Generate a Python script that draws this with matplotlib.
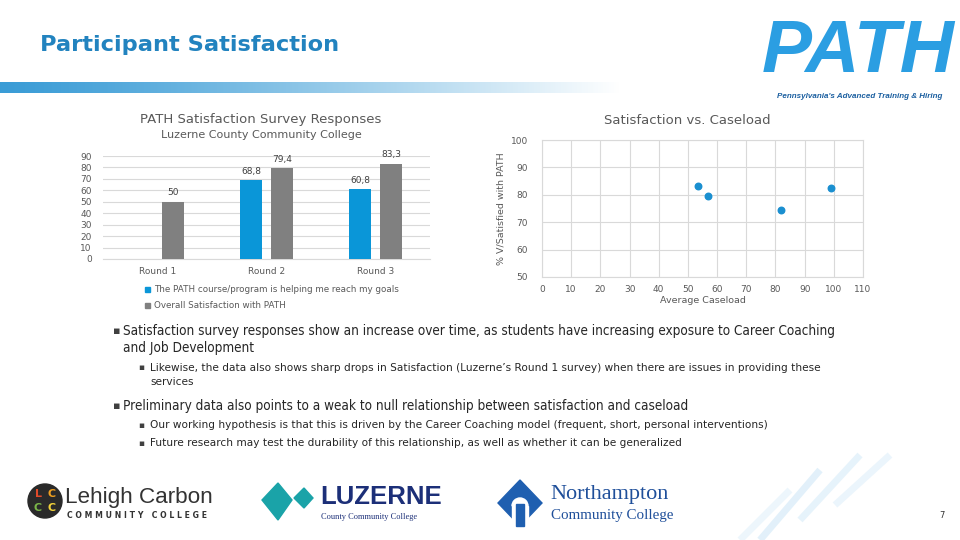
import numpy as np
import matplotlib
matplotlib.use("Agg")
import matplotlib.pyplot as plt
from matplotlib.patches import Rectangle, Polygon, Circle, Wedge

# bar chart data
rounds = ["Round 1", "Round 2", "Round 3"]
goals = [np.nan, 68.8, 60.8]
overall = [50, 79.4, 83.3]
goals_lbl = ["", "68,8", "60,8"]
overall_lbl = ["50", "79,4", "83,3"]

# scatter data
caseload = [53.5, 56.8, 82.0, 99.0]
satisfied = [83.3, 79.4, 74.6, 82.3]

W, H = 960, 540
fig = plt.figure(figsize=(9.6, 5.4), dpi=100)
fig.patch.set_facecolor("white")

def px(x, y):
    return x / W, 1 - y / H

def ftext(x, y, s, **kw):
    fx, fy = px(x, y)
    return fig.text(fx, fy, s, **kw)

BLUE = "#0a96d8"
GREY = "#808080"
TXT = "#595959"
GRID = "#d9d9d9"

# header band
band = fig.add_axes([0, 1 - 93 / H, 1, 11 / H])
grad = np.linspace(0, 1, 500)
cols = np.zeros((1, 500, 3))
c0 = np.array([0x3a, 0x9c, 0xd6]) / 255
for i, t in enumerate(grad):
    f = min(t * 1.55, 1) ** 1.2
    cols[0, i] = c0 * (1 - f) + np.array([1, 1, 1]) * f
band.imshow(cols, aspect="auto", extent=[0, 1, 0, 1])
band.axis("off")

ftext(40, 45, "Participant Satisfaction", fontsize=16.2, fontweight="bold",
      family="DejaVu Sans", color="#2283bf", va="center")

# PATH logo
ftext(858, 52, "PATH", fontsize=54, fontweight="bold", style="italic",
      family="Liberation Sans", color="#2b9ee2", ha="center", va="center")
ftext(860, 96, "Pennsylvania's Advanced Training & Hiring", fontsize=5.8,
      fontweight="bold", style="italic", family="Liberation Sans",
      color="#1b5fa0", ha="center", va="center")

# bar chart
ax = fig.add_axes([103 / W, 1 - 259 / H, 327 / W, 103 / H])
x = np.arange(len(rounds))
bw = 0.21
off = 0.142
ax.bar(x - off, goals, bw, color=BLUE, zorder=3)
ax.bar(x + off, overall, bw, color=GREY, zorder=3)
for i in range(len(rounds)):
    if goals_lbl[i]:
        ax.text(x[i] - off, goals[i] + 4, goals_lbl[i], ha="center", va="bottom",
                fontsize=6.5, color="#404040")
    ax.text(x[i] + off, overall[i] + 4, overall_lbl[i], ha="center", va="bottom",
            fontsize=6.5, color="#404040")
ax.set_xlim(-0.5, 2.5)
ax.set_ylim(0, 90)
ax.set_yticks(range(0, 91, 10))
ax.set_xticks(x)
ax.set_xticklabels(rounds)
ax.yaxis.grid(True, color=GRID, lw=0.8, zorder=0)
for s in ["top", "right", "left"]:
    ax.spines[s].set_visible(False)
ax.spines["bottom"].set_color(GRID)
ax.tick_params(length=0, labelsize=6.5, labelcolor=TXT)
ax.tick_params(axis="x", pad=6)
ax.tick_params(axis="y", pad=8)

ftext(261, 119, "PATH Satisfaction Survey Responses", fontsize=9.5, color=TXT,
      ha="center", va="center")
ftext(261, 135, "Luzerne County Community College", fontsize=8, color=TXT,
      ha="center", va="center")

# legend
fig.patches.append(Rectangle(px(145, 292), 5 / W, 5 / H, color=BLUE,
                             transform=fig.transFigure, figure=fig))
fig.patches.append(Rectangle(px(145, 308), 5 / W, 5 / H, color=GREY,
                             transform=fig.transFigure, figure=fig))
ftext(154, 289, "The PATH course/program is helping me reach my goals",
      fontsize=6.3, color=TXT, va="center")
ftext(154, 305, "Overall Satisfaction with PATH", fontsize=6.3, color=TXT,
      va="center")

# scatter chart
ax2 = fig.add_axes([542 / W, 1 - 277 / H, 321 / W, 137 / H])
ax2.scatter(caseload, satisfied, s=22, color="#1a8fd0", zorder=3)
ax2.set_xlim(0, 110)
ax2.set_ylim(50, 100)
ax2.set_xticks(range(0, 111, 10))
ax2.set_yticks(range(50, 101, 10))
ax2.grid(True, color=GRID, lw=0.8, zorder=0)
for s in ax2.spines.values():
    s.set_color(GRID)
ax2.tick_params(length=0, labelsize=6.5, labelcolor=TXT)
ax2.tick_params(axis="x", pad=6)
ax2.tick_params(axis="y", pad=10)
ax2.set_xlabel("Average Caseload", fontsize=6.8, color=TXT, labelpad=1)
ax2.set_ylabel("% V/Satisfied with PATH", fontsize=6.8, color=TXT, labelpad=4)
ftext(687, 120, "Satisfaction vs. Caseload", fontsize=9.5, color=TXT,
      ha="center", va="center")

# bullet text
BF = "DejaVu Sans"
B1 = 9.75
B2 = 7.6
ftext(113, 331, "\u25aa", fontsize=8, color="#404040", va="center")
ftext(123, 331, "Satisfaction survey responses show an increase over time, as students have increasing exposure to Career Coaching",
      fontsize=B1, color="#262626", va="center", family=BF, fontstretch="condensed")
ftext(123, 348, "and Job Development", fontsize=B1, color="#262626", va="center",
      family=BF, fontstretch="condensed")
ftext(138, 368, "\u25aa", fontsize=6.5, color="#404040", va="center")
ftext(150, 368, "Likewise, the data also shows sharp drops in Satisfaction (Luzerne\u2019s Round 1 survey) when there are issues in providing these",
      fontsize=B2, color="#262626", va="center", family=BF)
ftext(150, 382, "services", fontsize=B2, color="#262626", va="center", family=BF)
ftext(113, 406, "\u25aa", fontsize=8, color="#404040", va="center")
ftext(123, 406, "Preliminary data also points to a weak to null relationship between satisfaction and caseload",
      fontsize=B1, color="#262626", va="center", family=BF, fontstretch="condensed")
ftext(138, 425, "\u25aa", fontsize=6.5, color="#404040", va="center")
ftext(150, 425, "Our working hypothesis is that this is driven by the Career Coaching model (frequent, short, personal interventions)",
      fontsize=B2, color="#262626", va="center", family=BF)
ftext(138, 443, "\u25aa", fontsize=6.5, color="#404040", va="center")
ftext(150, 443, "Future research may test the durability of this relationship, as well as whether it can be generalized",
      fontsize=B2, color="#262626", va="center", family=BF)

# decorative stripes bottom right
deco = fig.add_axes([0, 0, 1, 1], zorder=-1)
deco.set_xlim(0, W)
deco.set_ylim(H, 0)
deco.axis("off")
for x0, x1, y0, y1, a in [(760, 820, 540, 470, 0.3), (800, 860, 520, 455, 0.25),
                          (835, 890, 505, 455, 0.2), (740, 790, 540, 490, 0.18)]:
    deco.plot([x0, x1], [y0, y1], color="#9fd0f0", lw=5, alpha=a,
              solid_capstyle="butt")

# logos (simplified)
lg = fig.add_axes([0, 0, 1, 1])
lg.set_xlim(0, W)
lg.set_ylim(H, 0)
lg.axis("off")
lg.add_patch(Circle((45, 501), 17, color="#2a2a2a"))
for (dx, dy, c, l) in [(-7, -7, "#e04a2a", "L"), (7, -7, "#f0a020", "C"),
                       (-7, 7, "#7ab648", "C"), (7, 7, "#f2d23a", "C")]:
    lg.text(45 + dx, 501 + dy, l, color=c, fontsize=8, fontweight="bold",
            ha="center", va="center")
lg.text(65, 497, "Lehigh Carbon", fontsize=16.2, color="#333333", va="center",
        family="Liberation Sans")
lg.text(67, 515, "C O M M U N I T Y   C O L L E G E", fontsize=5.6,
        fontweight="bold", color="#333333", va="center")

lg.add_patch(Polygon([[262, 500], [278, 483], [292, 500], [278, 520]], color="#1aa3a8"))
lg.add_patch(Polygon([[294, 498], [304, 488], [313, 498], [304, 508]], color="#1aa3a8"))
lg.text(320, 497, "LUZERNE", fontsize=18.5, fontweight="bold", color="#1c2f78",
        va="center", family="Liberation Sans")
lg.text(321, 517, "County Community College", fontsize=6, color="#1c2f78",
        va="center", family="Liberation Serif")

lg.add_patch(Polygon([[498, 503], [520, 480], [542, 503], [520, 526]], color="#1f5fb0"))
lg.add_patch(Wedge((520, 506), 8, 180, 360, color="white"))
lg.add_patch(Rectangle((512, 506), 16, 18, color="white"))
lg.add_patch(Rectangle((516, 504), 8, 22, color="#1f5fb0"))
lg.text(550, 494, "Northampton", fontsize=16, color="#1f4f9a", va="center",
        family="Liberation Serif")
lg.text(551, 515, "Community College", fontsize=10.8, color="#1f4f9a", va="center",
        family="Liberation Serif")

ftext(942, 515, "7", fontsize=6, color="#333333", ha="center", va="center")

fig.savefig("out.png", dpi=100, facecolor="white")
